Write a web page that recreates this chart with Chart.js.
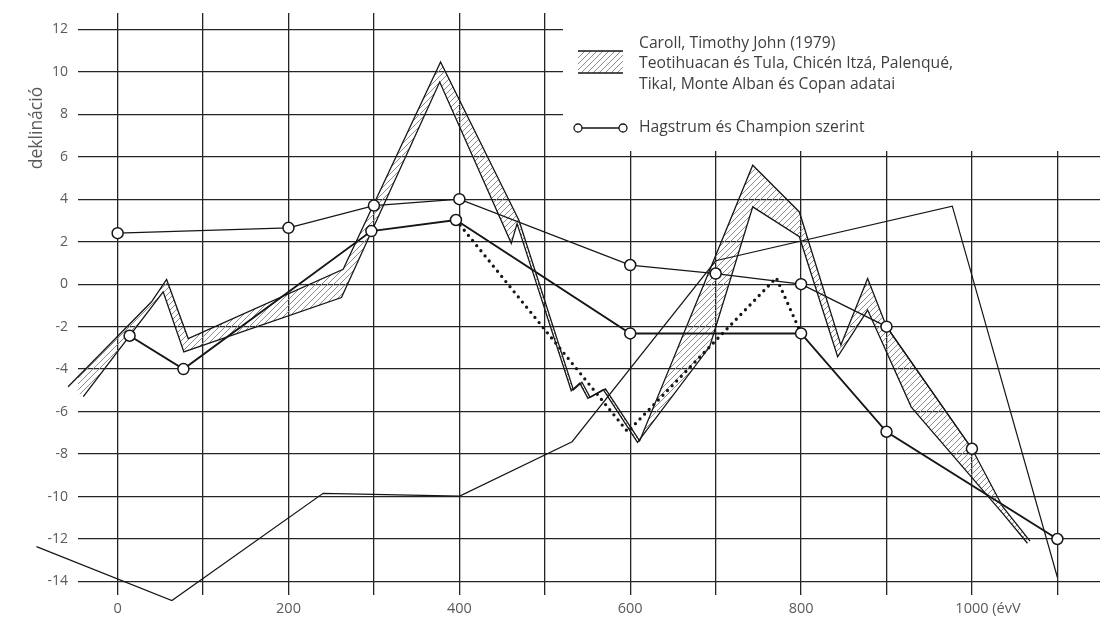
<!DOCTYPE html>
<html>
<head>
<meta charset="utf-8">
<script src="https://cdn.jsdelivr.net/npm/chart.js@4.4.1/dist/chart.umd.min.js"></script>
<style>
  html, body { margin: 0; padding: 0; background: #fff; }
  #wrap { width: 1107px; height: 617px; position: relative; }
</style>
</head>
<body>
<div id="wrap"><canvas id="c" width="1107" height="617"></canvas></div>
<script>
// ---- axis ticks -------------------------------------------------------
const xTickValues = [0, 100, 200, 300, 400, 500, 600, 700, 800, 900, 1000, 1100];
const xTickLabels = ['0', '', '200', '', '400', '', '600', '', '800', '', '1000', ''];
const xUnitSuffix = '(évV';
const yTickValues = [-14, -12, -10, -8, -6, -4, -2, 0, 2, 4, 6, 8, 10, 12];
const yAxisTitle = 'deklináció';

// ---- Caroll (1979): upper and lower edge of the hatched band ------------
const carollUpperX = [-58, 39.7, 57.3, 82.6, 264, 378, 469.7, 533.5, 543.5, 553, 571, 611, 743.4, 798, 846.6, 877.9, 900, 1000, 1036, 1068];
const carollUpperY = [-4.83, -0.83, 0.22, -2.56, 0.7, 10.46, 3.01, -4.98, -4.62, -5.33, -4.93, -7.38, 5.6, 3.4, -2.87, 0.27, -2.0, -7.75, -10.48, -12.1];
const carollLowerX = [-40.2, 53.3, 77.5, 262, 377, 460.8, 467.5, 531, 541, 550.5, 568.5, 608.5, 693, 743.4, 798, 842.8, 877.9, 929, 1036, 1065];
const carollLowerY = [-5.3, -0.36, -3.19, -0.63, 9.52, 1.92, 2.85, -5.02, -4.66, -5.38, -4.97, -7.45, -2.95, 3.64, 2.23, -3.42, -1.22, -5.79, -10.79, -12.2];

// ---- Hagstrum & Champion ----------------------------------------------
const hagstrumUpperX = [0, 200, 300, 400, 600, 700, 800, 900, 1000];
const hagstrumUpperY = [2.4, 2.65, 3.7, 4.0, 0.9, 0.5, 0.0, -2.0, -7.75];
const hagstrumLowerX = [14, 77, 297, 396, 600, 800, 900, 1100];
const hagstrumLowerY = [-2.43, -4.0, 2.5, 3.02, -2.32, -2.32, -6.95, -12.0];
const hagstrumDottedX = [396, 597, 771, 800];
const hagstrumDottedY = [3.02, -6.95, 0.3, -2.32];

// ---- long thin curve ---------------------------------------------------
const thinCurveX = [-95, 63.5, 240.5, 400.4, 532, 700, 977, 1100];
const thinCurveY = [-12.36, -14.9, -9.85, -9.98, -7.42, 1.1, 3.67, -13.8];

// ---- legend texts ------------------------------------------------------
const legendCaroll = ['Caroll, Timothy John (1979)', 'Teotihuacan és Tula, Chicén Itzá, Palenqué,', 'Tikal, Monte Alban és Copan adatai'];
const legendHagstrum = 'Hagstrum és Champion szerint';

// -----------------------------------------------------------------------
const FONT = "'Open Sans', 'DejaVu Sans', sans-serif";
const TEXT = '#3f3f3f';
const TICK = '#5a5a5a';
const INK = '#161616';

const pts = (xs, ys) => xs.map((x, i) => ({ x, y: ys[i] }));

function hatchPattern(step, color, width) {
  const tile = document.createElement('canvas');
  tile.width = step; tile.height = step;
  const g = tile.getContext('2d');
  g.strokeStyle = color; g.lineWidth = width;
  g.beginPath();
  g.moveTo(0, step); g.lineTo(step, 0);
  g.moveTo(-step / 2, step / 2); g.lineTo(step / 2, -step / 2);
  g.moveTo(step / 2, step * 1.5); g.lineTo(step * 1.5, step / 2);
  g.stroke();
  return g.createPattern(tile, 'repeat');
}
const hatch = hatchPattern(6, '#8c8c8c', 1);

const upperEdge = pts(carollUpperX, carollUpperY);
const lowerEdge = pts(carollLowerX, carollLowerY);
const bandShape = upperEdge.concat(lowerEdge.slice().reverse());

const circleLine = (label, data, width, order) => ({
  label, data, order,
  borderColor: INK, borderWidth: width,
  pointRadius: 5.5, pointBackgroundColor: '#fff', pointBorderColor: INK, pointBorderWidth: 1.5,
  fill: false, tension: 0
});
const plainLine = (label, data, width, order) => ({
  label, data, order,
  borderColor: INK, borderWidth: width, pointRadius: 0,
  fill: false, tension: 0, clip: false
});

// white legend panel + legend, axis title and unit suffix
const decorations = {
  id: 'decorations',
  beforeDatasetsDraw(chart) {
    const ctx = chart.ctx;
    ctx.save();
    ctx.fillStyle = '#fff';
    ctx.fillRect(563, 0, chart.width - 563, 151);
    ctx.restore();
  },
  afterDraw(chart) {
    const ctx = chart.ctx;
    ctx.save();
    // legend: hatched swatch
    ctx.fillStyle = hatch;
    ctx.fillRect(578, 51, 45, 22);
    ctx.strokeStyle = INK; ctx.lineWidth = 1.3;
    ctx.beginPath();
    ctx.moveTo(578, 51); ctx.lineTo(623, 51);
    ctx.moveTo(578, 73); ctx.lineTo(623, 73);
    ctx.stroke();
    // legend: circle line swatch
    ctx.beginPath(); ctx.moveTo(578, 128); ctx.lineTo(623, 128); ctx.stroke();
    [578, 623].forEach(cx => {
      ctx.beginPath(); ctx.arc(cx, 128, 4, 0, Math.PI * 2);
      ctx.fillStyle = '#fff'; ctx.fill(); ctx.stroke();
    });
    // legend texts
    ctx.fillStyle = TEXT;
    ctx.font = '15.7px ' + FONT;
    ctx.textAlign = 'left'; ctx.textBaseline = 'middle';
    legendCaroll.forEach((t, i) => ctx.fillText(t, 639, 43.5 + i * 20.5));
    ctx.fillText(legendHagstrum, 639, 128);
    // y axis title
    ctx.save();
    ctx.translate(37, 128);
    ctx.rotate(-Math.PI / 2);
    ctx.textAlign = 'center';
    ctx.font = '17.5px ' + FONT;
    ctx.fillStyle = TICK;
    ctx.fillText(yAxisTitle, 0, 0);
    ctx.restore();
    // unit suffix after the 1000 label
    const xs = chart.scales.x;
    const f = chart.options.scales.x.ticks.font;
    ctx.font = f.size + 'px ' + FONT;
    ctx.fillStyle = TICK;
    const i1000 = xTickValues.indexOf(1000);
    const wLabel = ctx.measureText(xTickLabels[i1000]).width;
    const px = xs.getPixelForValue(1000) + wLabel / 2 + ctx.measureText(' ').width;
    const lineH = f.size * 1.2;
    ctx.textAlign = 'left'; ctx.textBaseline = 'middle';
    ctx.fillText(xUnitSuffix, px, xs.top + chart.options.scales.x.ticks.padding + lineH / 2);
    ctx.restore();
  }
};

Chart.defaults.font.family = FONT;

new Chart(document.getElementById('c'), {
  type: 'line',
  data: {
    datasets: [
      circleLine('Hagstrum és Champion (felső)', pts(hagstrumUpperX, hagstrumUpperY), 1.3, 0),
      circleLine('Hagstrum és Champion (alsó)', pts(hagstrumLowerX, hagstrumLowerY), 1.9, 1),
      {
        label: 'Hagstrum és Champion (pontozott)', data: pts(hagstrumDottedX, hagstrumDottedY), order: 2,
        borderColor: INK, borderWidth: 3.3, borderDash: [0, 6.6], borderCapStyle: 'round',
        pointRadius: 0, fill: false, tension: 0
      },
      plainLine('vékony görbe', pts(thinCurveX, thinCurveY), 1.2, 3),
      plainLine('Caroll felső', upperEdge, 1.3, 4),
      plainLine('Caroll alsó', lowerEdge, 1.3, 5),
      {
        label: 'Caroll sáv', data: bandShape, order: 6,
        borderColor: 'rgba(0,0,0,0)', borderWidth: 1, pointRadius: 0,
        backgroundColor: hatch, fill: 'shape', tension: 0
      }
    ]
  },
  options: {
    responsive: false,
    animation: false,
    events: [],
    layout: { padding: { top: 13, right: 6, left: 0, bottom: 0 } },
    plugins: { legend: { display: false }, tooltip: { enabled: false }, title: { display: false } },
    scales: {
      x: {
        type: 'linear', min: -46.4, max: 1149.9,
        afterBuildTicks(s) { s.ticks = xTickValues.map(v => ({ value: v })); },
        afterFit(s) { s.height = 22; s.paddingLeft = 0; s.paddingRight = 0; },
        border: { display: false },
        grid: { color: '#242424', lineWidth: 1.3, drawTicks: false },
        ticks: {
          autoSkip: false, maxRotation: 0, padding: 5, color: TICK,
          font: { size: 14.5 },
          callback(v) { const i = xTickValues.indexOf(v); return i >= 0 ? xTickLabels[i] : ''; }
        }
      },
      y: {
        type: 'linear', min: -14.636, max: 12.767,
        afterBuildTicks(s) { s.ticks = yTickValues.map(v => ({ value: v })); },
        afterFit(s) { s.width = 78; s.paddingTop = 0; s.paddingBottom = 0; },
        border: { display: false },
        grid: { color: '#242424', lineWidth: 1.3, drawTicks: false },
        ticks: { padding: 10, color: TICK, font: { size: 14 } }
      }
    }
  },
  plugins: [decorations]
});
</script>
</body>
</html>
